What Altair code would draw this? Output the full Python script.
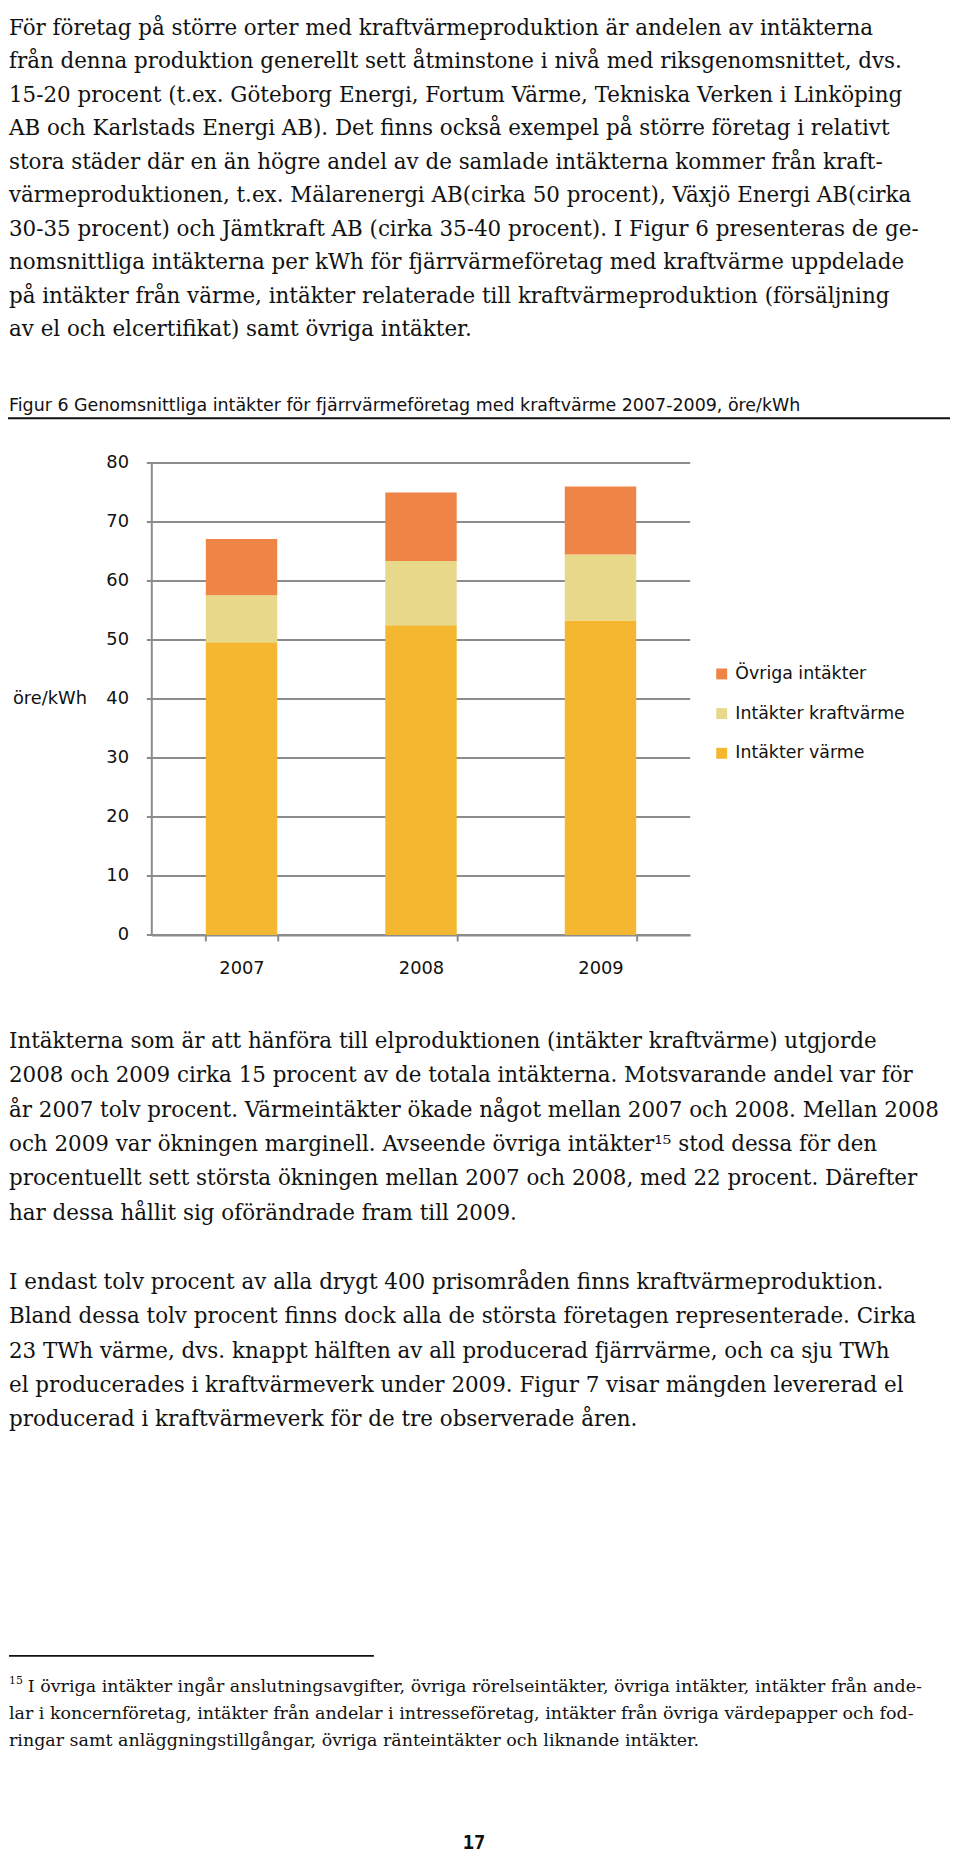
import altair as alt
import pandas as pd

# ---------------- data ----------------
years = ["2007", "2008", "2009"]
intakter_varme = [49.6, 52.5, 53.3]
intakter_kraftvarme = [8.0, 10.9, 11.2]
ovriga_intakter = [9.5, 11.6, 11.5]
series_names = ["Intäkter värme", "Intäkter kraftvärme", "Övriga intäkter"]
series_colors = ["#F4B72F", "#E8D88A", "#EE8547"]
legend_order = ["Övriga intäkter", "Intäkter kraftvärme", "Intäkter värme"]
y_ticks = [0, 10, 20, 30, 40, 50, 60, 70, 80]

figure_title = "Figur 6 Genomsnittliga intäkter för fjärrvärmeföretag med kraftvärme 2007-2009, öre/kWh"
y_title = "öre/kWh"
page_number = "17"

top_lines = [
    "För företag på större orter med kraftvärmeproduktion är andelen av intäkterna",
    "från denna produktion generellt sett åtminstone i nivå med riksgenomsnittet, dvs.",
    "15-20 procent (t.ex. Göteborg Energi, Fortum Värme, Tekniska Verken i Linköping",
    "AB och Karlstads Energi AB). Det finns också exempel på större företag i relativt",
    "stora städer där en än högre andel av de samlade intäkterna kommer från kraft-",
    "värmeproduktionen, t.ex. Mälarenergi AB(cirka 50 procent), Växjö Energi AB(cirka",
    "30-35 procent) och Jämtkraft AB (cirka 35-40 procent). I Figur 6 presenteras de ge-",
    "nomsnittliga intäkterna per kWh för fjärrvärmeföretag med kraftvärme uppdelade",
    "på intäkter från värme, intäkter relaterade till kraftvärmeproduktion (försäljning",
    "av el och elcertifikat) samt övriga intäkter.",
]
bottom_par1 = [
    "Intäkterna som är att hänföra till elproduktionen (intäkter kraftvärme) utgjorde",
    "2008 och 2009 cirka 15 procent av de totala intäkterna. Motsvarande andel var för",
    "år 2007 tolv procent. Värmeintäkter ökade något mellan 2007 och 2008. Mellan 2008",
    "och 2009 var ökningen marginell. Avseende övriga intäkter\u00b9\u2075 stod dessa för den",
    "procentuellt sett största ökningen mellan 2007 och 2008, med 22 procent. Därefter",
    "har dessa hållit sig oförändrade fram till 2009.",
]
bottom_par2 = [
    "I endast tolv procent av alla drygt 400 prisområden finns kraftvärmeproduktion.",
    "Bland dessa tolv procent finns dock alla de största företagen representerade. Cirka",
    "23 TWh värme, dvs. knappt hälften av all producerad fjärrvärme, och ca sju TWh",
    "el producerades i kraftvärmeverk under 2009. Figur 7 visar mängden levererad el",
    "producerad i kraftvärmeverk för de tre observerade åren.",
]
footnote_mark = "15"
footnote_lines = [
    "I övriga intäkter ingår anslutningsavgifter, övriga rörelseintäkter, övriga intäkter, intäkter från ande-",
    "lar i koncernföretag, intäkter från andelar i intresseföretag, intäkter från övriga värdepapper och fod-",
    "ringar samt anläggningstillgångar, övriga ränteintäkter och liknande intäkter.",
]

# ---------------- layout (page pixels) ----------------
W, H = 952, 1850
OX, OY = 8, 8
LEFT = 9  # left text margin (page px)


def px(v):
    return v - OX


def py(v):
    return v - OY


SERIF = "DejaVu Serif"
SANS = "DejaVu Sans"
BODY_SIZE = 21.6
FOOT_SIZE = 17.6
TXT = "#111111"
GRID = "#8C8C8C"

AX_L, AX_R = 153, 696     # category axis extent (page px)
Y_ZERO, Y_TOP = 935, 459  # page y of 0 and of 80


def text_block(lines, x0, y0, lh, font, size, weight="normal", first_x=None, align="left"):
    rows = []
    for i, t in enumerate(lines):
        x = first_x if (first_x is not None and i == 0) else x0
        rows.append({"t": t, "x": px(x), "y": py(y0 + i * lh)})
    return alt.Chart(pd.DataFrame(rows)).mark_text(
        align=align, baseline="alphabetic", font=font, fontSize=size,
        fontWeight=weight, color=TXT
    ).encode(
        x=alt.X("x:Q", scale=None, axis=None),
        y=alt.Y("y:Q", scale=None, axis=None),
        text="t:N",
    )


top_text = text_block(top_lines, LEFT, 27, 33.8, SERIF, BODY_SIZE)
par1 = text_block(bottom_par1, LEFT, 1049, 34.6, SERIF, BODY_SIZE)
par2 = text_block(bottom_par2, LEFT, 1292, 34.6, SERIF, BODY_SIZE)
foot = text_block(footnote_lines, LEFT, 1698, 27.5, SERIF, FOOT_SIZE, first_x=28)
foot_mark = text_block([footnote_mark], LEFT, 1690, 0, SERIF, 11)
title = text_block([figure_title], LEFT, 407, 0, SANS, 17.6)
page_no = text_block([page_number], 478, 1857, 0, "DejaVu Sans Mono", 19,
                     weight="bold", align="center")

one = pd.DataFrame({"a": [0]})
title_rule = alt.Chart(one).mark_rule(color="#111111", strokeWidth=2).encode(
    x=alt.value(0), x2=alt.value(px(958)), y=alt.value(py(414))
)
foot_rule = alt.Chart(one).mark_rule(color="#111111", strokeWidth=1.6).encode(
    x=alt.value(px(LEFT)), x2=alt.value(px(377)), y=alt.value(py(1662))
)

# ---------------- bar chart ----------------
rows = []
for yi, yr in enumerate(years):
    for k, (name, vals) in enumerate(zip(series_names, [intakter_varme, intakter_kraftvarme, ovriga_intakter])):
        rows.append({"year": yr, "series": name, "value": vals[yi], "k": k})
bar_df = pd.DataFrame(rows)
tick_df = pd.DataFrame({"value": y_ticks, "label": [str(v) for v in y_ticks]})
span_df = pd.DataFrame({"lo": [min(y_ticks)], "hi": [max(y_ticks)]})

yscale = alt.Scale(domain=[0, 80], range=[py(Y_ZERO), py(Y_TOP)], nice=False, zero=True)
xscale = alt.Scale(domain=years, range=[px(AX_L), px(AX_R)], paddingInner=0.602, paddingOuter=0.301)
color_map = dict(zip(series_names, series_colors))

# gridlines (with the small outward tick on the left)
grid = alt.Chart(tick_df).mark_rule(color=GRID, strokeWidth=2).encode(
    y=alt.Y("value:Q", scale=yscale, axis=None),
    x=alt.value(px(AX_L - 5)),
    x2=alt.value(px(AX_R)),
)
# vertical y-axis line
y_domain = alt.Chart(span_df).mark_rule(color=GRID, strokeWidth=2).encode(
    y=alt.Y("lo:Q", scale=yscale, axis=None),
    y2="hi:Q",
    x=alt.value(px(AX_L)),
)
# y tick labels
y_labels = alt.Chart(tick_df).mark_text(
    align="right", baseline="middle", font=SANS, fontSize=18, color=TXT
).encode(
    y=alt.Y("value:Q", scale=yscale, axis=None),
    x=alt.value(px(130)),
    text="label:N",
)
y_axis_title = alt.Chart(pd.DataFrame({"t": [y_title], "value": [40]})).mark_text(
    align="left", baseline="middle", font=SANS, fontSize=18, color=TXT
).encode(
    y=alt.Y("value:Q", scale=yscale, axis=None),
    x=alt.value(px(13)),
    text="t:N",
)

bars = alt.Chart(bar_df).mark_bar().encode(
    x=alt.X("year:N", scale=xscale, sort=years, axis=alt.Axis(
        title=None, offset=-(H - py(Y_ZERO)), tickBand="extent", grid=False,
        domainColor=GRID, domainWidth=2, tickColor=GRID, tickWidth=2, tickSize=6,
        labelFont=SANS, labelFontSize=18, labelColor=TXT,
        labelPadding=19, labelAngle=0,
    )),
    y=alt.Y("value:Q", stack="zero", scale=yscale, axis=None),
    color=alt.Color("series:N", scale=alt.Scale(
        domain=legend_order, range=[color_map[s] for s in legend_order]
    ), legend=alt.Legend(
        orient="none", legendX=px(719), legendY=py(663), title=None,
        symbolType="square", symbolSize=121, symbolStrokeWidth=0,
        labelFont=SANS, labelFontSize=17.5, labelColor=TXT, labelLimit=400,
        labelOffset=5, rowPadding=21, padding=0,
    )),
    order=alt.Order("k:Q", sort="ascending"),
)

bar_chart = alt.layer(grid, y_domain, y_labels, y_axis_title, bars)

chart = alt.layer(
    top_text, title, title_rule, bar_chart, par1, par2, foot_rule, foot, foot_mark, page_no
).resolve_scale(
    x="independent", y="independent", color="independent"
).properties(
    width=W, height=H, padding=0,
    autosize=alt.AutoSizeParams(type="none"),
    background="white",
).configure_view(stroke=None)

chart.save("out.html", embed_options={"renderer": "svg", "actions": False})
